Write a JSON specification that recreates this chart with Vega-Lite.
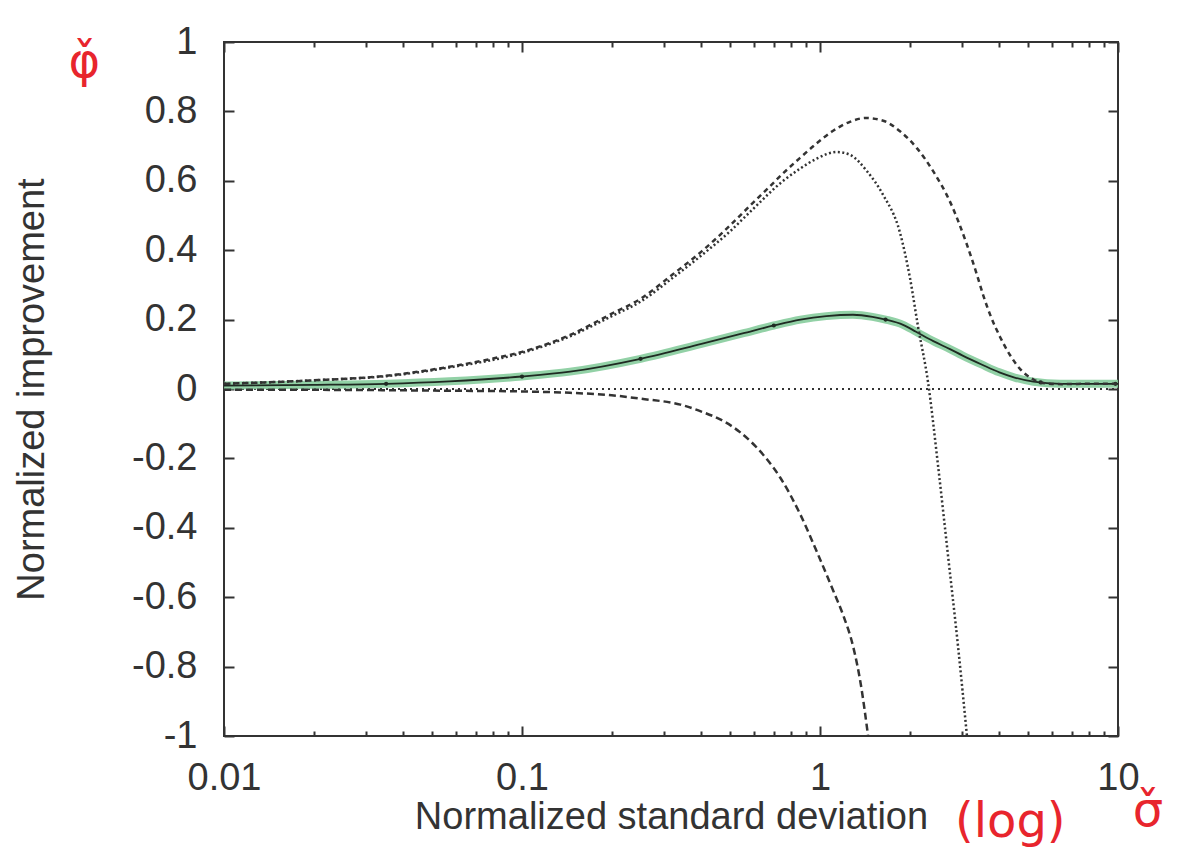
{
  "$schema": "https://vega.github.io/schema/vega-lite/v6.json",
  "width": 894,
  "height": 694,
  "autosize": "none",
  "padding": {"left": 224, "top": 42, "right": 62, "bottom": 129},
  "background": "white",
  "config": {
    "view": {"stroke": "#333333", "strokeWidth": 2},
    "axis": {
      "labelFont": "Liberation Sans", "labelFontSize": 38, "labelColor": "#333333",
      "titleFont": "Liberation Sans", "titleFontSize": 38, "titleFontWeight": "normal", "titleColor": "#333333",
      "domain": false, "grid": false, "tickColor": "#333333", "tickWidth": 2,
      "labelOverlap": false, "labelFlush": false
    }
  },
  "datasets": {
    "curves": [
      {"s": "E", "x": 0.01, "y": 0}, {"s": "E", "x": 10, "y": 0},

      {"s": "A", "x": 0.01, "y": 0.015}, {"s": "A", "x": 0.02, "y": 0.025}, {"s": "A", "x": 0.035, "y": 0.038},
      {"s": "A", "x": 0.057, "y": 0.064}, {"s": "A", "x": 0.08, "y": 0.088}, {"s": "A", "x": 0.1, "y": 0.107},
      {"s": "A", "x": 0.145, "y": 0.156}, {"s": "A", "x": 0.2, "y": 0.217}, {"s": "A", "x": 0.25, "y": 0.26},
      {"s": "A", "x": 0.32, "y": 0.33}, {"s": "A", "x": 0.4, "y": 0.396}, {"s": "A", "x": 0.5, "y": 0.472},
      {"s": "A", "x": 0.582, "y": 0.528}, {"s": "A", "x": 0.679, "y": 0.584}, {"s": "A", "x": 0.753, "y": 0.622},
      {"s": "A", "x": 0.857, "y": 0.666}, {"s": "A", "x": 0.975, "y": 0.708}, {"s": "A", "x": 1.11, "y": 0.745},
      {"s": "A", "x": 1.26, "y": 0.77}, {"s": "A", "x": 1.42, "y": 0.781}, {"s": "A", "x": 1.63, "y": 0.773},
      {"s": "A", "x": 1.86, "y": 0.742}, {"s": "A", "x": 2.11, "y": 0.695}, {"s": "A", "x": 2.4, "y": 0.627},
      {"s": "A", "x": 2.73, "y": 0.54}, {"s": "A", "x": 3.1, "y": 0.42}, {"s": "A", "x": 3.36, "y": 0.33},
      {"s": "A", "x": 3.53, "y": 0.27}, {"s": "A", "x": 3.72, "y": 0.215}, {"s": "A", "x": 4.02, "y": 0.15},
      {"s": "A", "x": 4.34, "y": 0.098}, {"s": "A", "x": 4.69, "y": 0.058}, {"s": "A", "x": 5.19, "y": 0.028},
      {"s": "A", "x": 5.6, "y": 0.017}, {"s": "A", "x": 6.5, "y": 0.014}, {"s": "A", "x": 8, "y": 0.015},
      {"s": "A", "x": 10, "y": 0.015},

      {"s": "B", "x": 0.01, "y": 0.015}, {"s": "B", "x": 0.02, "y": 0.025}, {"s": "B", "x": 0.035, "y": 0.037},
      {"s": "B", "x": 0.057, "y": 0.062}, {"s": "B", "x": 0.1, "y": 0.104}, {"s": "B", "x": 0.145, "y": 0.152},
      {"s": "B", "x": 0.2, "y": 0.21}, {"s": "B", "x": 0.25, "y": 0.252}, {"s": "B", "x": 0.32, "y": 0.32},
      {"s": "B", "x": 0.4, "y": 0.385}, {"s": "B", "x": 0.5, "y": 0.455}, {"s": "B", "x": 0.582, "y": 0.51},
      {"s": "B", "x": 0.753, "y": 0.6}, {"s": "B", "x": 0.857, "y": 0.635}, {"s": "B", "x": 0.975, "y": 0.664},
      {"s": "B", "x": 1.14, "y": 0.683}, {"s": "B", "x": 1.26, "y": 0.675}, {"s": "B", "x": 1.44, "y": 0.627},
      {"s": "B", "x": 1.627, "y": 0.56}, {"s": "B", "x": 1.856, "y": 0.45}, {"s": "B", "x": 2.004, "y": 0.32},
      {"s": "B", "x": 2.133, "y": 0.18}, {"s": "B", "x": 2.304, "y": 0.02}, {"s": "B", "x": 2.489, "y": -0.22},
      {"s": "B", "x": 2.689, "y": -0.48}, {"s": "B", "x": 2.904, "y": -0.74}, {"s": "B", "x": 3.113, "y": -1.0},

      {"s": "C", "x": 0.01, "y": -0.002}, {"s": "C", "x": 0.03, "y": -0.003}, {"s": "C", "x": 0.057, "y": -0.005},
      {"s": "C", "x": 0.1, "y": -0.007}, {"s": "C", "x": 0.145, "y": -0.011}, {"s": "C", "x": 0.2, "y": -0.018},
      {"s": "C", "x": 0.25, "y": -0.028}, {"s": "C", "x": 0.34, "y": -0.045}, {"s": "C", "x": 0.4, "y": -0.065},
      {"s": "C", "x": 0.48, "y": -0.095}, {"s": "C", "x": 0.54, "y": -0.125}, {"s": "C", "x": 0.66, "y": -0.2},
      {"s": "C", "x": 0.735, "y": -0.255}, {"s": "C", "x": 0.857, "y": -0.36}, {"s": "C", "x": 0.977, "y": -0.47},
      {"s": "C", "x": 1.106, "y": -0.58}, {"s": "C", "x": 1.2, "y": -0.655}, {"s": "C", "x": 1.29, "y": -0.74},
      {"s": "C", "x": 1.37, "y": -0.85}, {"s": "C", "x": 1.45, "y": -1.0},

      {"s": "D", "x": 0.01, "y": 0.01}, {"s": "D", "x": 0.02, "y": 0.012}, {"s": "D", "x": 0.035, "y": 0.015},
      {"s": "D", "x": 0.057, "y": 0.022}, {"s": "D", "x": 0.1, "y": 0.036}, {"s": "D", "x": 0.145, "y": 0.05},
      {"s": "D", "x": 0.25, "y": 0.087}, {"s": "D", "x": 0.4, "y": 0.13}, {"s": "D", "x": 0.55, "y": 0.16},
      {"s": "D", "x": 0.7, "y": 0.183}, {"s": "D", "x": 0.86, "y": 0.2}, {"s": "D", "x": 1.05, "y": 0.21},
      {"s": "D", "x": 1.29, "y": 0.214}, {"s": "D", "x": 1.5, "y": 0.208}, {"s": "D", "x": 1.66, "y": 0.2},
      {"s": "D", "x": 1.9, "y": 0.185}, {"s": "D", "x": 2.1, "y": 0.165}, {"s": "D", "x": 2.4, "y": 0.138},
      {"s": "D", "x": 2.73, "y": 0.115}, {"s": "D", "x": 3.0, "y": 0.097}, {"s": "D", "x": 3.5, "y": 0.07},
      {"s": "D", "x": 4.0, "y": 0.048}, {"s": "D", "x": 4.5, "y": 0.033}, {"s": "D", "x": 5.2, "y": 0.021},
      {"s": "D", "x": 6.4, "y": 0.015}, {"s": "D", "x": 8, "y": 0.015}, {"s": "D", "x": 10, "y": 0.015}
    ],
    "dots": [
      {"x": 0.035, "y": 0.015}, {"x": 0.1, "y": 0.036}, {"x": 0.25, "y": 0.087}, {"x": 0.7, "y": 0.183},
      {"x": 1.66, "y": 0.2}, {"x": 5.5, "y": 0.019}, {"x": 9.8, "y": 0.015}
    ],
    "notes": [
      {"note": "φ̌", "x": 0.0034, "y": 0.94},
      {"note": "(log)", "x": 4.35, "y": -1.25},
      {"note": "σ̌", "x": 12.6, "y": -1.22}
    ]
  },
  "layer": [
    {
      "data": {"name": "curves"},
      "transform": [{"filter": "datum.s === 'E'"}],
      "mark": {"type": "line", "color": "#333333", "strokeWidth": 2, "strokeDash": [2, 4], "clip": true},
      "encoding": {
        "x": {
          "field": "x", "type": "quantitative",
          "scale": {"type": "log", "domain": [0.01, 10], "nice": false},
          "axis": {
            "orient": "bottom",
            "title": "Normalized standard deviation",
            "values": [0.01, 0.02, 0.03, 0.04, 0.05, 0.06, 0.07, 0.08, 0.09, 0.1, 0.2, 0.3, 0.4, 0.5, 0.6, 0.7, 0.8, 0.9, 1, 2, 3, 4, 5, 6, 7, 8, 9, 10],
            "labelExpr": "indexof([0.01, 0.1, 1, 10], datum.value) >= 0 ? toString(datum.value) : ''",
            "tickSize": {"condition": {"test": "indexof([0.01, 0.1, 1, 10], datum.value) >= 0", "value": -10}, "value": -5},
            "labelPadding": 33,
            "titlePadding": -4
          }
        },
        "y": {
          "field": "y", "type": "quantitative",
          "scale": {"domain": [-1, 1], "nice": false, "zero": false},
          "axis": {
            "orient": "left",
            "title": "Normalized improvement",
            "values": [-1, -0.8, -0.6, -0.4, -0.2, 0, 0.2, 0.4, 0.6, 0.8, 1],
            "labelExpr": "toString(datum.value)",
            "tickSize": -10,
            "labelPadding": 37,
            "titlePadding": 80
          }
        }
      }
    },
    {
      "data": {"name": "curves"},
      "transform": [{"filter": "datum.s === 'D'"}],
      "mark": {"type": "line", "color": "#86cc9c", "strokeWidth": 8, "opacity": 0.9, "clip": true, "interpolate": "monotone"},
      "encoding": {
        "x": {"field": "x", "type": "quantitative", "axis": null},
        "y": {"field": "y", "type": "quantitative", "axis": null}
      }
    },
    {
      "data": {"name": "curves"},
      "transform": [{"filter": "datum.s === 'D'"}],
      "mark": {"type": "line", "color": "#1f2a22", "strokeWidth": 1.8, "clip": true, "interpolate": "monotone"},
      "encoding": {
        "x": {"field": "x", "type": "quantitative", "axis": null},
        "y": {"field": "y", "type": "quantitative", "axis": null}
      }
    },
    {
      "data": {"name": "dots"},
      "mark": {"type": "point", "filled": true, "color": "#1f2a22", "size": 18, "opacity": 1},
      "encoding": {
        "x": {"field": "x", "type": "quantitative", "axis": null},
        "y": {"field": "y", "type": "quantitative", "axis": null}
      }
    },
    {
      "data": {"name": "curves"},
      "transform": [{"filter": "datum.s === 'A'"}],
      "mark": {"type": "line", "color": "#333333", "strokeWidth": 2.5, "strokeDash": [5, 4], "clip": true, "interpolate": "monotone"},
      "encoding": {
        "x": {"field": "x", "type": "quantitative", "axis": null},
        "y": {"field": "y", "type": "quantitative", "axis": null}
      }
    },
    {
      "data": {"name": "curves"},
      "transform": [{"filter": "datum.s === 'B'"}],
      "mark": {"type": "line", "color": "#333333", "strokeWidth": 2.5, "strokeDash": [2, 2.5], "clip": true, "interpolate": "monotone"},
      "encoding": {
        "x": {"field": "x", "type": "quantitative", "axis": null},
        "y": {"field": "y", "type": "quantitative", "axis": null}
      }
    },
    {
      "data": {"name": "curves"},
      "transform": [{"filter": "datum.s === 'C'"}],
      "mark": {"type": "line", "color": "#333333", "strokeWidth": 2.5, "strokeDash": [7, 4], "clip": true, "interpolate": "monotone"},
      "encoding": {
        "x": {
          "field": "x", "type": "quantitative",
          "axis": {
            "orient": "top", "title": null, "labels": false,
            "values": [0.01, 0.02, 0.03, 0.04, 0.05, 0.06, 0.07, 0.08, 0.09, 0.1, 0.2, 0.3, 0.4, 0.5, 0.6, 0.7, 0.8, 0.9, 1, 2, 3, 4, 5, 6, 7, 8, 9, 10],
            "tickSize": {"condition": {"test": "indexof([0.01, 0.1, 1, 10], datum.value) >= 0", "value": -10}, "value": -5}
          }
        },
        "y": {
          "field": "y", "type": "quantitative",
          "axis": {
            "orient": "right", "title": null, "labels": false,
            "values": [-1, -0.8, -0.6, -0.4, -0.2, 0, 0.2, 0.4, 0.6, 0.8, 1],
            "tickSize": -10
          }
        }
      }
    },
    {
      "data": {"name": "notes"},
      "mark": {"type": "text", "color": "#e8252d", "font": "DejaVu Sans", "fontSize": 48, "align": "center", "baseline": "middle", "clip": false},
      "encoding": {
        "x": {"field": "x", "type": "quantitative", "axis": null},
        "y": {"field": "y", "type": "quantitative", "axis": null},
        "text": {"field": "note", "type": "nominal"}
      }
    }
  ],
  "resolve": {"axis": {"x": "independent", "y": "independent"}}
}
